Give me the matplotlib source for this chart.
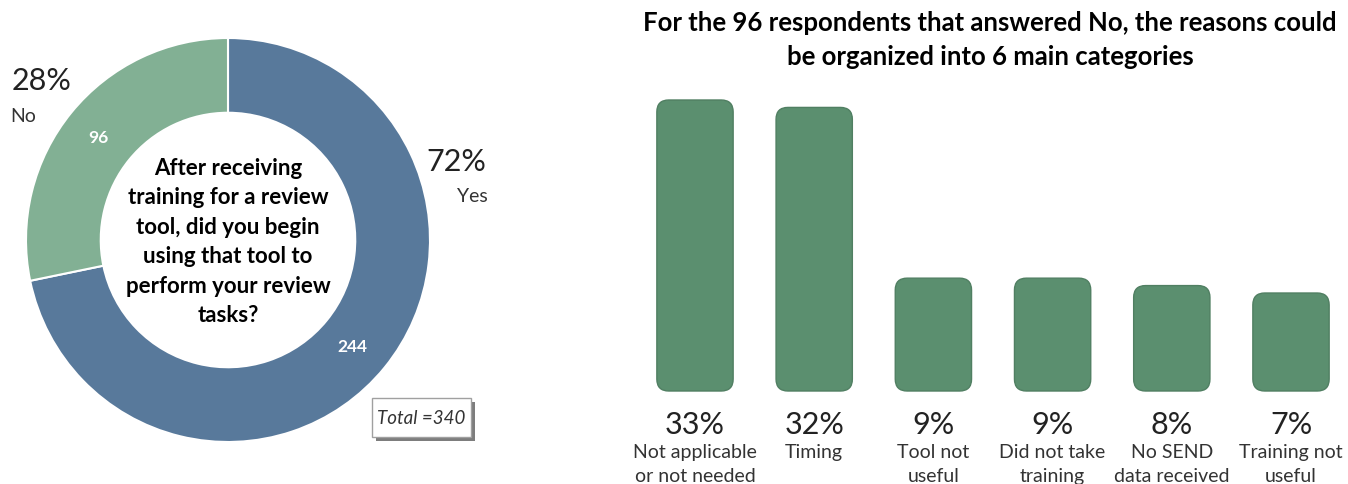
import numpy as np
import matplotlib
matplotlib.use("Agg")
import matplotlib.pyplot as plt
from matplotlib.patches import FancyBboxPatch

plt.rcParams['font.family'] = ['Lato', 'DejaVu Sans']

# %% Data
pie_labels = ["Yes", "No"]
pie_counts = [244, 96]
pie_pct = [72, 28]
total = 340
question = "After receiving\ntraining for a review\ntool, did you begin\nusing that tool to\nperform your review\ntasks?"

reasons = ["Not applicable\nor not needed", "Timing", "Tool not\nuseful",
           "Did not take\ntraining", "No SEND\ndata received", "Training not\nuseful"]
reason_pct = [33, 32, 9, 9, 8, 7]
bar_title = "For the 96 respondents that answered No, the reasons could\nbe organized into 6 main categories"

W, H = 1348, 484
fig = plt.figure(figsize=(W / 100, H / 100), dpi=100)


def px(x, y):
    return x / W, 1 - y / H


# %% Donut
cx, cy, r = 228, 240, 202
ax = fig.add_axes([(cx - r) / W, (H - cy - r) / H, 2 * r / W, 2 * r / H])
blue, green = "#58799b", "#82b094"
wedges, _ = ax.pie(pie_counts, startangle=90, counterclock=False, colors=[blue, green],
                   radius=1, wedgeprops=dict(width=0.37, edgecolor="white", linewidth=1.5))
ax.set_xlim(-1, 1)
ax.set_ylim(-1, 1)
ax.set_aspect("equal")
ax.axis("off")

ax.text(0, -0.01, question, ha="center", va="center", fontsize=16, fontweight="bold",
        linespacing=1.5)

# counts on the ring
fig.text(*px(98, 138), str(pie_counts[1]), ha="center", va="center",
         color="white", fontsize=12.5, fontweight="bold")
fig.text(*px(352, 347), str(pie_counts[0]), ha="center", va="center",
         color="white", fontsize=12.5, fontweight="bold")

# outside labels
fig.text(*px(42, 81), f"{pie_pct[1]}%", ha="center", va="center", fontsize=22, color="#222222")
fig.text(*px(23, 117), pie_labels[1], ha="center", va="center", fontsize=14, color="#333333")
fig.text(*px(456, 162), f"{pie_pct[0]}%", ha="center", va="center", fontsize=22, color="#222222")
fig.text(*px(472, 197), pie_labels[0], ha="center", va="center", fontsize=14, color="#333333")

# total box with shadow
fig.patches.append(plt.Rectangle(px(376, 441), 99 / W, 39 / H, transform=fig.transFigure,
                                 facecolor="#7d7d7d", edgecolor="none"))
fig.patches.append(plt.Rectangle(px(372, 437), 99 / W, 39 / H, transform=fig.transFigure,
                                 facecolor="white", edgecolor="#a0a0a0", linewidth=1))
fig.text(*px(421, 418), f"Total ={total}", ha="center", va="center", fontsize=13.5,
         style="italic", color="#333333")

# %% Bars
pad = 6.2
x0, step, base, top = 695, 119.2, 391, 100
bx = fig.add_axes([(x0 - step / 2) / W, (H - base) / H, 6 * step / W, (base - top) / H])
bx.set_xlim(-0.5, 5.5)
bx.set_ylim(-pad, max(reason_pct))
bx.axis("off")

xs = np.arange(len(reasons))
bars = bx.bar(xs, np.array(reason_pct) + pad, bottom=-pad, width=0.64)
ypx = (base - top) / (max(reason_pct) + pad)
aspect = step / ypx
for b in bars:
    fb = FancyBboxPatch((b.get_x(), b.get_y()), b.get_width(), b.get_height(),
                        boxstyle="round,pad=0,rounding_size=0.1", mutation_aspect=aspect,
                        facecolor="#5b8f6f", edgecolor="#507f62", linewidth=1.0, clip_on=False)
    bx.add_patch(fb)
    b.remove()

for i, (v, lab) in enumerate(zip(reason_pct, reasons)):
    bx.annotate(f"{v}%", (i, -pad), xytext=(0, -34 * 0.72), textcoords="offset points",
                ha="center", va="center", fontsize=22, color="#222222", annotation_clip=False)
    bx.annotate(lab, (i, -pad), xytext=(0, -53 * 0.72), textcoords="offset points",
                ha="center", va="top", fontsize=14, color="#333333", linespacing=1.5,
                annotation_clip=False)

fig.text(*px(990, 40), bar_title, ha="center", va="center", fontsize=18.5, fontweight="bold",
         linespacing=1.5)

fig.savefig("out.png", dpi=100)
